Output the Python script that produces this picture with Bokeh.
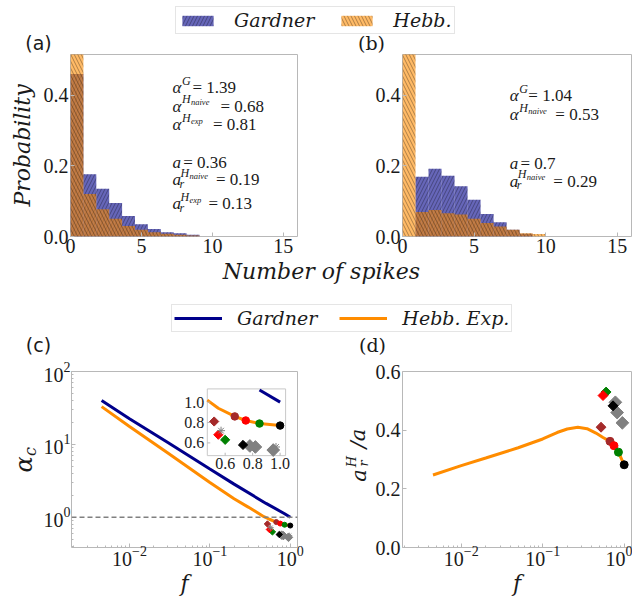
from math import pi
from bokeh.plotting import figure
from bokeh.layouts import column, row
from bokeh.models import (Range1d, FixedTicker, Label, Legend, LegendItem, Span,
                          LinearScale, PrintfTickFormatter, LogTicker, ColumnDataSource)
from bokeh.core.properties import value
from bokeh.embed import file_html
from bokeh.resources import INLINE

SERIF = "Liberation Serif"
MATH = "DejaVu Serif"
SANS = "DejaVu Sans"
INK = "#1a1a1a"
FRAME = "#b8b8b8"
BLUE = "#00008b"
ORANGE = "#ff8c00"

# ---------------- data ----------------
bin_edges = [0.0, 0.909, 1.818, 2.727, 3.636, 4.545, 5.455, 6.364, 7.273, 8.182, 9.091, 10.0]
a_gardner = [0.46, 0.176, 0.135, 0.095, 0.058, 0.035, 0.021, 0.012, 0.009, 0.005, 0.0]
a_hebb = [0.52, 0.12, 0.077, 0.05, 0.03, 0.019, 0.012, 0.008, 0.005, 0.003, 0.0]
b_gardner = [0.0, 0.169, 0.192, 0.172, 0.142, 0.104, 0.064, 0.040, 0.019, 0.008, 0.0]
b_hebb = [0.52, 0.069, 0.075, 0.066, 0.062, 0.050, 0.038, 0.028, 0.019, 0.009, 0.007]

f_gardner = [0.0045, 0.01, 0.03, 0.1, 0.2, 0.5, 0.85, 1.0]
alpha_gardner = [40.0, 22.5, 10.6, 4.6, 2.85, 1.55, 1.12, 1.0]
f_hebb = [0.0045, 0.01, 0.03, 0.1, 0.2, 0.3, 0.47, 0.55, 0.67, 0.75, 0.85, 1.0]
alpha_hebb = [33.0, 17.6, 7.6, 3.0, 1.8, 1.38, 1.02, 0.94, 0.86, 0.82, 0.79, 0.77]
f_ar = [0.0045, 0.01, 0.02, 0.05, 0.1, 0.15, 0.2, 0.27, 0.35, 0.45, 0.55, 0.67, 0.75, 0.85, 1.0]
ar_hebb = [0.247, 0.279, 0.305, 0.340, 0.370, 0.392, 0.404, 0.410, 0.405, 0.390, 0.375, 0.362, 0.347, 0.325, 0.282]

circ_f = [0.67, 0.75, 0.85, 1.0]
circ_alpha = [0.86, 0.82, 0.79, 0.77]
circ_ar = [0.362, 0.347, 0.325, 0.282]
circ_colors = ["brown", "red", "green", "black"]

dia_f = [0.78, 0.82, 0.95, 0.60, 0.52, 0.55, 0.73]
dia_alpha = [0.57, 0.56, 0.53, 0.63, 0.81, 0.68, 0.58]
dia_ar = [0.495, 0.46, 0.425, 0.53, 0.41, 0.518, 0.483]
dia_colors = ["gray", "gray", "gray", "green", "brown", "red", "black"]
dia_big = [True, True, True, False, False, False, False]

star_f = [0.57, 0.97]
star_alpha = [0.72, 0.56]

inset_xticks = [0.6, 0.8, 1.0]
inset_yticks = [0.6, 0.8, 1.0]

# ---------------- layout geometry (page px, body margin is 0) ----------------
H_LEG, H_TOP, H_MID, H_BOT = 54, 205, 98, 241
W_SA, W_A, W_B = 40, 300, 292
W_SC, W_C, W_SD, W_D = 40, 300, 31, 261
# frame bottom-left corners (page px); strips share the aligned frames of their row
FR_LEG = (0, 54)
FR_SA = (0, 236)
FR_A = (69, 236)
FR_B = (402, 236)
FR_MID = (0, 357)
FR_SC = (0, 553)
FR_SD = (340, 553)
FR_C = (69, 553)
FR_D = (402, 553)


def put(p, frame, px, py, text, size, style="normal", angle=0.0, align="left",
        baseline="alphabetic", font=SERIF, color=INK):
    fl, fb = frame
    p.add_layout(Label(x=px - fl, y=fb - py, x_units="screen", y_units="screen", text=text,
                       text_font=font, text_font_size=f"{size}px", text_font_style=style,
                       text_color=color, text_align=align, text_baseline=baseline, angle=angle))


def sym(p, frame, x0, y0, base, rest, rest_dx, sup=None, sub=None, subsub=None, bw=9.5):
    put(p, frame, x0, y0, base, 17, "italic")
    if sub:
        put(p, frame, x0 + bw - 1, y0 + 4, sub, 12, "italic")
    if sup:
        put(p, frame, x0 + bw, y0 - 7, sup, 12, "italic")
    if subsub:
        put(p, frame, x0 + bw + 9, y0 - 4, subsub, 8.5, "italic")
    put(p, frame, x0 + rest_dx, y0, rest, 17)


def make_fig(width, height, bl, br, bt, bb, **kw):
    return figure(width=width, height=height, min_border_left=bl, min_border_right=br,
                  min_border_top=bt, min_border_bottom=bb, output_backend="svg",
                  toolbar_location=None, title=None, **kw)


def style_axes(p, minor=False):
    p.grid.visible = False
    p.outline_line_color = FRAME
    p.background_fill_color = "white"
    p.border_fill_color = "white"
    for ax in p.axis:
        ax.axis_line_color = None
        ax.major_tick_line_color = FRAME
        ax.major_tick_in = 4
        ax.major_tick_out = 0
        ax.minor_tick_line_color = FRAME if minor else None
        ax.minor_tick_in = 2
        ax.minor_tick_out = 0
        ax.major_label_text_font = SERIF
        ax.major_label_text_font_size = "20px"
        ax.major_label_text_color = INK
        ax.major_label_standoff = 2


def blank_fig(width, height, xr=(0, 1), yr=(0, 1)):
    p = figure(width=width, height=height, x_range=Range1d(*xr), y_range=Range1d(*yr),
               x_axis_location=None, y_axis_location=None, min_border=0, title=None,
               output_backend="svg", toolbar_location=None)
    p.grid.visible = False
    p.outline_line_color = None
    p.background_fill_color = "white"
    p.border_fill_color = "white"
    return p


G_STYLE = dict(fill_color=BLUE, fill_alpha=0.6, line_color=None, hatch_pattern="/",
               hatch_color="black", hatch_alpha=0.45, hatch_scale=7, hatch_weight=0.7)
H_STYLE = dict(fill_color=ORANGE, fill_alpha=0.6, line_color=None, hatch_pattern="\\",
               hatch_color="black", hatch_alpha=0.45, hatch_scale=7, hatch_weight=0.7)

LEG_STYLE = dict(orientation="horizontal", border_line_color="#cccccc", border_line_width=1,
                 background_fill_color="white", background_fill_alpha=1.0, padding=2, margin=0,
                 label_text_font=MATH, label_text_font_style="italic",
                 label_text_font_size="19px", label_text_color=INK, label_height=18)

# ---------------- top strip: legend + panel letters ----------------
# legend samples use the real histogram data, kept outside this strip's visible range
leg1 = blank_fig(W_SA + W_A + W_B, H_LEG, xr=(-30, -20))
rg = leg1.quad(left=bin_edges[:-1], right=bin_edges[1:], bottom=0, top=a_gardner, **G_STYLE)
rh = leg1.quad(left=bin_edges[:-1], right=bin_edges[1:], bottom=0, top=a_hebb, **H_STYLE)
leg1.add_layout(Legend(items=[LegendItem(label="Gardner", renderers=[rg]),
                              LegendItem(label="Hebb.", renderers=[rh])],
                       location=(175, 20), glyph_width=39, glyph_height=13,
                       label_standoff=17, spacing=23, **LEG_STYLE))
put(leg1, FR_LEG, 38, 42, "(a)", 19, align="center", baseline="middle", font=SANS)
put(leg1, FR_LEG, 371, 42, "(b)", 19, align="center", baseline="middle", font="DejaVu Serif")

# ---------------- histograms ----------------
def hist_fig(bl, br, width, gvals, hvals):
    p = make_fig(width, H_TOP, bl, br, 0, 23, x_range=Range1d(0, 16), y_range=Range1d(0, 0.515))
    p.quad(left=bin_edges[:-1], right=bin_edges[1:], bottom=0, top=gvals, **G_STYLE)
    p.quad(left=bin_edges[:-1], right=bin_edges[1:], bottom=0, top=hvals, **H_STYLE)
    style_axes(p)
    p.xaxis.ticker = FixedTicker(ticks=[0, 5, 10, 15])
    p.yaxis.ticker = FixedTicker(ticks=[0.0, 0.2, 0.4])
    p.yaxis.formatter = PrintfTickFormatter(format="%.1f")
    return p

sa = blank_fig(W_SA, H_TOP)
put(sa, FR_SA, 22, 145, "Probability", 22, "italic", angle=pi / 2, align="center",
    baseline="middle", font=MATH)
pa = hist_fig(29, 43, W_A, a_gardner, a_hebb)
pb = hist_fig(62, 1, W_B, b_gardner, b_hebb)

# annotations (a)
x0 = 171
sym(pa, FR_A, x0, 87, "α", "= 1.39", 20, sup="G")
sym(pa, FR_A, x0, 105.7, "α", "= 0.68", 48, sup="H", subsub="naive")
sym(pa, FR_A, x0, 124, "α", "= 0.81", 40.5, sup="H", subsub="exp")
sym(pa, FR_A, x0, 162.3, "a", "= 0.36", 10.7, bw=8)
sym(pa, FR_A, x0, 179.3, "a", "= 0.19", 43.5, sup="H", sub="r", subsub="naive", bw=8)
sym(pa, FR_A, x0, 203.3, "a", "= 0.13", 36, sup="H", sub="r", subsub="exp", bw=8)
# annotations (b)
x1 = 509.3
sym(pb, FR_B, x1, 95, "α", "= 1.04", 18.5, sup="G")
sym(pb, FR_B, x1, 114, "α", "= 0.53", 45.5, sup="H", subsub="naive")
sym(pb, FR_B, x1, 162.7, "a", "= 0.7", 10.7, bw=8)
sym(pb, FR_B, x1, 180.7, "a", "= 0.29", 43.5, sup="H", sub="r", subsub="naive", bw=8)

# ---------------- middle strip: x label, legend, panel letters ----------------
mid = blank_fig(W_SA + W_A + W_B, H_MID, xr=(-30, -20))
put(mid, FR_MID, 321, 271, "Number of spikes", 22, "italic", align="center", baseline="middle",
    font=MATH)
rgl = mid.line(f_gardner, alpha_gardner, line_color=BLUE, line_width=3)
rhl = mid.line(f_hebb, alpha_hebb, line_color=ORANGE, line_width=3)
mid.add_layout(Legend(items=[LegendItem(label="Gardner", renderers=[rgl]),
                             LegendItem(label="Hebb. Exp.", renderers=[rhl])],
                      location=(171, 25), glyph_width=48, glyph_height=20,
                      label_standoff=15, spacing=22, **LEG_STYLE))
put(mid, FR_MID, 38, 344, "(c)", 19, align="center", baseline="middle", font=SANS)
put(mid, FR_MID, 372, 344, "(d)", 19, align="center", baseline="middle", font="DejaVu Serif")

# ---------------- (c) ----------------
XR = (0.0019, 1.23)
pc = make_fig(W_C, H_BOT, 29, 43, 14, 46, x_axis_type="log", y_axis_type="log",
              x_range=Range1d(*XR), y_range=Range1d(0.385, 100))
style_axes(pc, minor=True)
pc.xaxis.ticker = LogTicker(num_minor_ticks=10)
pc.yaxis.ticker = LogTicker(num_minor_ticks=10)
pc.yaxis.major_label_standoff = 1
pc.add_layout(Span(location=1.0, dimension="width", line_color="gray", line_dash="5 3",
                   line_width=1.5))
pc.line(f_gardner, alpha_gardner, line_color=BLUE, line_width=3)
pc.line(f_hebb, alpha_hebb, line_color=ORANGE, line_width=3)

circ_src = ColumnDataSource(dict(f=circ_f, al=circ_alpha, ar=circ_ar, c=circ_colors))
dia_src = ColumnDataSource(dict(f=dia_f, al=dia_alpha, ar=dia_ar, c=dia_colors,
                                s_main=[6 if b else 4.5 for b in dia_big],
                                s_in=[9 if b else 6.5 for b in dia_big],
                                s_d=[9 if b else 7 for b in dia_big]))
star_src = ColumnDataSource(dict(f=star_f, al=star_alpha))

pc.scatter("f", "al", source=dia_src, marker="square", angle=pi / 4, size="s_main", color="c")
pc.scatter("f", "al", source=circ_src, marker="circle", size=5, color="c")
pc.scatter("f", "al", source=star_src, marker="asterisk", size=6, line_color="gray", line_width=1)

# inset drawn on extra linear scales inside panel (c)
INS_X = (0.47, 1.04)
INS_Y = (0.475, 1.13)
IL, IR, IT, IB = 206, 285, 389, 458
FLc, FRc, FTc, FBc = 69, 297, 371, 553
kx = (INS_X[1] - INS_X[0]) / (IR - IL)
ky = (INS_Y[1] - INS_Y[0]) / (IB - IT)
pc.extra_x_ranges = {"ins": Range1d(INS_X[0] - (IL - FLc) * kx, INS_X[1] + (FRc - IR) * kx)}
pc.extra_y_ranges = {"ins": Range1d(INS_Y[0] - (FBc - IB) * ky, INS_Y[1] + (IT - FTc) * ky)}
pc.extra_x_scales = {"ins": LinearScale()}
pc.extra_y_scales = {"ins": LinearScale()}
INS = dict(x_range_name="ins", y_range_name="ins")
pc.quad(left=[INS_X[0]], right=[INS_X[1]], bottom=[INS_Y[0]], top=[INS_Y[1]],
        fill_color="white", line_color="#c8c8c8", line_width=1, **INS)
in_g = [(f, a) for f, a in zip(f_gardner, alpha_gardner) if f >= INS_X[0] and a <= INS_Y[1]]
in_h = [(f, a) for f, a in zip(f_hebb, alpha_hebb) if f >= INS_X[0] and a <= INS_Y[1]]
pc.line([t[0] for t in in_g], [t[1] for t in in_g], line_color=BLUE, line_width=3, **INS)
pc.line([t[0] for t in in_h], [t[1] for t in in_h], line_color=ORANGE, line_width=3, **INS)
pc.scatter("f", "al", source=dia_src, marker="square", angle=pi / 4, size="s_in", color="c", **INS)
pc.scatter("f", "al", source=circ_src, marker="circle", size=7.5, color="c", **INS)
pc.scatter("f", "al", source=star_src, marker="asterisk", size=8, line_color="gray",
           line_width=1, **INS)
pc.segment(x0=inset_xticks, x1=inset_xticks, y0=[INS_Y[0]] * 3, y1=[INS_Y[0] + 3 * ky] * 3,
           line_color=FRAME, **INS)
pc.segment(x0=[INS_X[0]] * 3, x1=[INS_X[0] + 3 * kx] * 3, y0=inset_yticks, y1=inset_yticks,
           line_color=FRAME, **INS)
pc.text(x=inset_xticks, y=[INS_Y[0]] * 3, text=[f"{t:.1f}" for t in inset_xticks],
        text_align="center", text_baseline="top", y_offset=2, text_font=value(SERIF),
        text_font_size="16px", text_color=INK, **INS)
pc.text(x=[INS_X[0]] * 3, y=inset_yticks, text=[f"{t:.1f}" for t in inset_yticks],
        text_align="right", text_baseline="middle", x_offset=-3, text_font=value(SERIF),
        text_font_size="16px", text_color=INK, **INS)

# ---------------- (d) ----------------
pd_ = make_fig(W_D, H_BOT, 31, 1, 14, 46, x_axis_type="log",
               x_range=Range1d(*XR), y_range=Range1d(0, 0.6))
style_axes(pd_, minor=True)
pd_.xaxis.ticker = LogTicker(num_minor_ticks=10)
pd_.yaxis.ticker = FixedTicker(ticks=[0.0, 0.2, 0.4, 0.6])
pd_.yaxis.formatter = PrintfTickFormatter(format="%.1f")
pd_.yaxis.minor_tick_line_color = None
pd_.line(f_ar, ar_hebb, line_color=ORANGE, line_width=3)
pd_.scatter("f", "ar", source=dia_src, marker="square", angle=pi / 4, size="s_d", color="c")
pd_.scatter("f", "ar", source=circ_src, marker="circle", size=8, color="c")

for p in (pc, pd_):
    p.xaxis.major_label_standoff = -2
    p.xaxis.axis_label = "f"
    p.xaxis.axis_label_text_font = MATH
    p.xaxis.axis_label_text_font_style = "italic"
    p.xaxis.axis_label_text_font_size = "22px"
    p.xaxis.axis_label_text_color = INK
    p.xaxis.axis_label_standoff = 2

# y-label strips
sc = blank_fig(W_SC, H_BOT)
put(sc, FR_SC, 23, 470, "α", 24, "italic", angle=pi / 2, align="center", baseline="middle",
    font=MATH)
put(sc, FR_SC, 30, 457, "c", 16, "italic", angle=pi / 2, align="center", baseline="middle",
    font=MATH)
sd = blank_fig(W_SD, H_BOT)
put(sd, FR_SD, 358, 481, "a", 21, "italic", angle=pi / 2, align="center", baseline="middle",
    font=MATH)
put(sd, FR_SD, 363, 469, "r", 13, "italic", angle=pi / 2, align="center", baseline="middle",
    font=MATH)
put(sd, FR_SD, 351, 467, "H", 13, "italic", angle=pi / 2, align="center", baseline="middle",
    font=MATH)
put(sd, FR_SD, 357, 444, "/a", 21, "italic", angle=pi / 2, align="center", baseline="middle",
    font=MATH)

layout = column(leg1, row(sa, pa, pb), mid, row(sc, pc, sd, pd_))
open("out.html", "w").write(file_html(layout, INLINE, title="chart"))
